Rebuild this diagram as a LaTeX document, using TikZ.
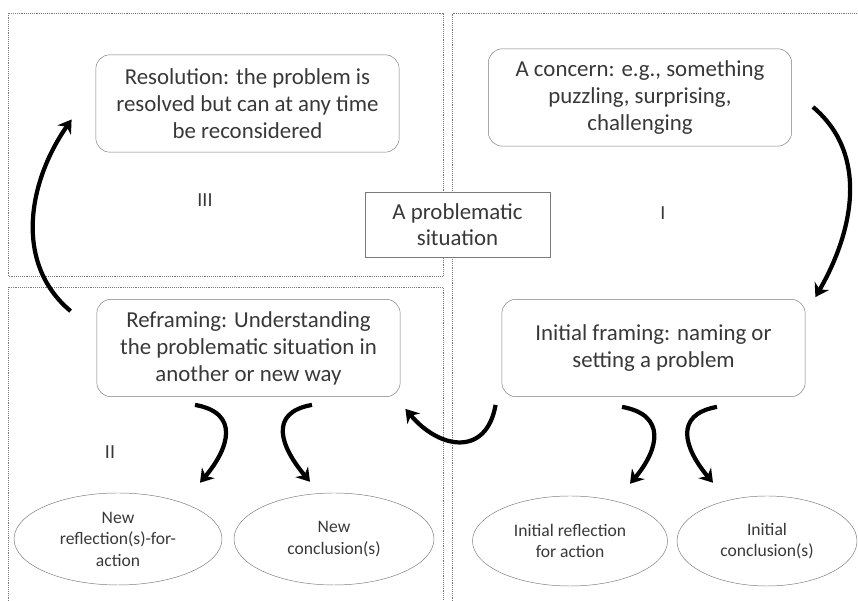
\documentclass[tikz,border=0pt]{standalone}
\usepackage{fontspec}
\setmainfont{Carlito}
\usepackage{tikz}
\usetikzlibrary{calc}
\usetikzlibrary{positioning}
\usetikzlibrary{shapes.geometric}
\usetikzlibrary{arrows.meta}
\definecolor{txtgray}{HTML}{383838}
\definecolor{linegray}{HTML}{7A7A7A}
\tikzstyle{stagebox} = [draw=linegray, rounded corners=12pt, minimum width=9.1cm, minimum height=2.92cm, align=center, text=txtgray, font=\fontsize{19.5}{23}\selectfont]
\tikzstyle{sitbox} = [draw=linegray, fill=white, minimum width=5.55cm, minimum height=1.95cm, align=center, text=txtgray, font=\fontsize{19.5}{22}\selectfont]
\tikzstyle{outcome} = [draw=linegray, ellipse, inner sep=0pt, align=center, text=txtgray, font=\fontsize{15}{18.3}\selectfont]
\tikzstyle{phase} = [text=txtgray, font=\fontsize{17}{20}\selectfont]
\tikzstyle{panel} = [draw=linegray, densely dotted, line width=0.6pt]
\tikzstyle{bigarrow} = [line width=3.6pt, -{Stealth[length=11pt, width=14pt]}]

\begin{document}
\begin{tikzpicture}[x=0.03cm, y=0.03cm]
    \useasboundingbox (0,0) rectangle (858,601);

    \draw[panel] (8,325) rectangle (443,588);
    \draw[panel] (8,0) |- (443,314) -- (443,0);
    \draw[panel] (452,0) |- (858,588);

    \node[stagebox] (res_box) at (247.5,497.5)
{Resolution: the problem is\\resolved but can at any time\\be reconsidered};
    \node[stagebox] (conc_box) at ($(res_box)+(392.5,6)$)
{A concern: e.g., something\\puzzling, surprising,\\challenging};
    \node[stagebox] (refr_box) at ($(res_box)+(1,-244.5)$)
{Reframing: Understanding\\the problematic situation in\\another or new way};
    \node[stagebox] (init_box) at ($(refr_box)+(405,0)$)
{Initial framing: naming or\\setting a problem};
    \node[sitbox] (prob_box) at (457.5,376.5) {A problematic\\situation};

    \node[outcome, minimum width=6.24cm, minimum height=2.76cm] (new_refl) at (118,62)
{New\\reflection(s)-for-\\action};
    \node[outcome, minimum width=6cm, minimum height=2.76cm] (new_concl) at ($(new_refl)+(216,0)$)
{New\\conclusion(s)};
    \node[outcome, minimum width=5.85cm, minimum height=2.7cm] (init_refl) at (570,60)
{Initial reflection\\for action};
    \node[outcome, minimum width=5.4cm, minimum height=2.7cm] (init_concl) at ($(init_refl)+(197,0)$)
{Initial\\conclusion(s)};

    \node[phase] (ph_three) at (205,401) {III};
    \node[phase] (ph_one) at (663,388) {I};
    \node[phase] (ph_two) at (110,149) {II};

    \draw[bigarrow] ($(refr_box.north west)+(-26,-12)$) to[out=140, in=235] ($(res_box.west)+(-24,-16)$);
    \draw[bigarrow] ($(conc_box.east)+(21,-9.5)$) to[out=-40, in=60] ($(init_box.north east)+(10,2)$);
    \draw[bigarrow] ($(init_box.south west)+(-6,-8)$) to[out=-100, in=-50, looseness=1.5] ($(refr_box.south east)+(5,-12)$);
    \draw[bigarrow] ($(refr_box.south)+(-53.5,-8)$) to[out=-10, in=50, looseness=1.5] ($(new_refl.north)+(82,10)$);
    \draw[bigarrow] ($(refr_box.south)+(63.5,-8)$) to[out=190, in=130, looseness=1.5] ($(new_concl.north)+(-24,11)$);
    \draw[bigarrow] ($(init_box.south)+(-31.5,-10)$) to[out=-10, in=50, looseness=1.5] ($(init_refl.north)+(60,12)$);
    \draw[bigarrow] ($(init_box.south)+(63.5,-10)$) to[out=190, in=130, looseness=1.5] ($(init_concl.north)+(-54,13)$);
\end{tikzpicture}
\end{document}
